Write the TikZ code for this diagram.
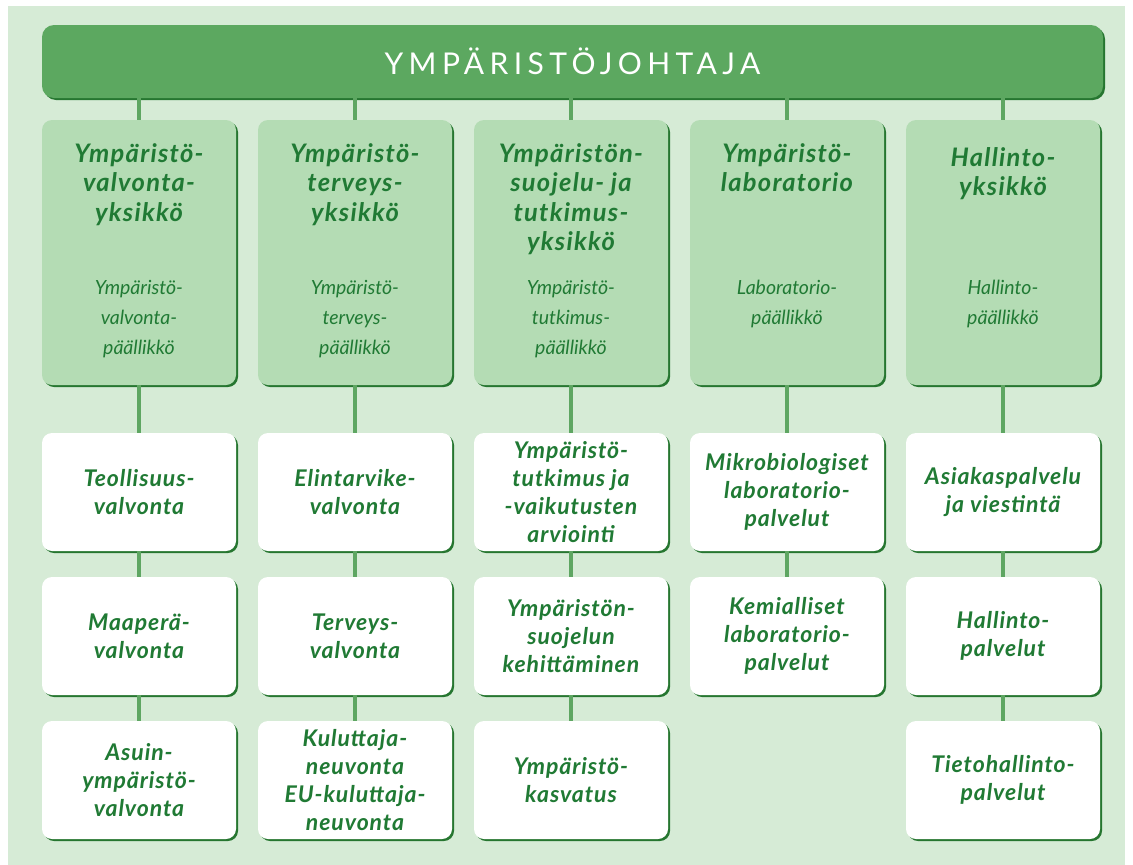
\documentclass[tikz,border=0pt]{standalone}
\usepackage{fontspec}
\setmainfont{Lato}
\usetikzlibrary{shadows}
\definecolor{bggreen}{RGB}{214,235,214}
\definecolor{bargreen}{RGB}{92,168,96}
\definecolor{headgreen}{RGB}{180,220,180}
\definecolor{textgreen}{RGB}{32,122,52}
\definecolor{linegreen}{RGB}{94,166,98}
\definecolor{shadegreen}{RGB}{38,118,48}

\tikzset{
  boxshadow/.style={drop shadow={shadow xshift=2pt,shadow yshift=-2pt,fill=shadegreen,opacity=1}},
  titlebar/.style={fill=bargreen,rounded corners=12pt,minimum width=1061pt,minimum height=73pt,
    boxshadow,text=white,font=\fontsize{30}{32}\selectfont\addfontfeatures{LetterSpace=18}},
  unitbox/.style={fill=headgreen,rounded corners=10pt,minimum width=194pt,minimum height=265pt,boxshadow},
  taskbox/.style={fill=white,rounded corners=10pt,minimum width=194pt,minimum height=118pt,boxshadow,
    align=center,text=textgreen,font=\fontsize{23}{28}\selectfont\bfseries\itshape\addfontfeatures{LetterSpace=4}},
  unitname/.style={anchor=north,inner sep=0pt,align=center,text=textgreen,
    font=\fontsize{25.5}{29.5}\selectfont\bfseries\itshape\addfontfeatures{LetterSpace=5}},
  chief/.style={anchor=north,inner sep=0pt,align=center,text=textgreen,
    font=\fontsize{19.5}{30}\selectfont\itshape},
  conn/.style={draw=linegreen,line width=4pt}
}

\begin{document}
\begin{tikzpicture}[x=1pt,y=-1pt]
  \useasboundingbox (0,0) rectangle (1133,865);
  \fill[bggreen] (8,6) rectangle (1125,865);

  % johtaja
  \node[titlebar] (top) at (572.5,61.5) {YMPÄRISTÖJOHTAJA};

  % yksiköt
  \node[unitbox] (u1) at (139,252.5) {};
  \node[unitbox] (u2) at (355,252.5) {};
  \node[unitbox] (u3) at (571,252.5) {};
  \node[unitbox] (u4) at (787,252.5) {};
  \node[unitbox] (u5) at (1003,252.5) {};

  \node[unitname] (n1) at (139,143) {Ympäristö-\\valvonta-\\yksikkö};
  \node[unitname] (n2) at (355,143) {Ympäristö-\\terveys-\\yksikkö};
  \node[unitname] (n3) at (571,143) {Ympäristön-\\suojelu- ja\\tutkimus-\\yksikkö};
  \node[unitname] (n4) at (787,143) {Ympäristö-\\laboratorio};
  \node[unitname] (n5) at (1003,147) {Hallinto-\\yksikkö};

  \node[chief] (c1) at (139,280) {Ympäristö-\\valvonta-\\päällikkö};
  \node[chief] (c2) at (355,280) {Ympäristö-\\terveys-\\päällikkö};
  \node[chief] (c3) at (571,280) {Ympäristö-\\tutkimus-\\päällikkö};
  \node[chief] (c4) at (787,280) {Laboratorio-\\päällikkö};
  \node[chief] (c5) at (1003,280) {Hallinto-\\päällikkö};

  % palvelut
  \node[taskbox] (a1) at (139,492) {Teollisuus-\\valvonta};
  \node[taskbox] (b1) at (139,636) {Maaperä-\\valvonta};
  \node[taskbox] (d1) at (139,780) {Asuin-\\ympäristö-\\valvonta};

  \node[taskbox] (a2) at (355,492) {Elintarvike-\\valvonta};
  \node[taskbox] (b2) at (355,636) {Terveys-\\valvonta};
  \node[taskbox] (d2) at (355,780) {Kuluttaja-\\neuvonta\\EU-kuluttaja-\\neuvonta};

  \node[taskbox] (a3) at (571,492) {Ympäristö-\\tutkimus ja\\-vaikutusten\\arviointi};
  \node[taskbox] (b3) at (571,636) {Ympäristön-\\suojelun\\kehittäminen};
  \node[taskbox] (d3) at (571,780) {Ympäristö-\\kasvatus};

  \node[taskbox] (a4) at (787,492) {Mikrobiologiset\\laboratorio-\\palvelut};
  \node[taskbox] (b4) at (787,636) {Kemialliset\\laboratorio-\\palvelut};

  \node[taskbox] (a5) at (1003,492) {Asiakaspalvelu\\ja viestintä};
  \node[taskbox] (b5) at (1003,636) {Hallinto-\\palvelut};
  \node[taskbox] (d5) at (1003,780) {Tietohallinto-\\palvelut};

  % viivat
  \draw[conn] (u1.north) -- (u1.north |- top.south);
  \draw[conn] (u2.north) -- (u2.north |- top.south);
  \draw[conn] (u3.north) -- (u3.north |- top.south);
  \draw[conn] (u4.north) -- (u4.north |- top.south);
  \draw[conn] (u5.north) -- (u5.north |- top.south);
  \draw[conn] (u1.south) -- (a1.north) (a1.south) -- (b1.north) (b1.south) -- (d1.north);
  \draw[conn] (u2.south) -- (a2.north) (a2.south) -- (b2.north) (b2.south) -- (d2.north);
  \draw[conn] (u3.south) -- (a3.north) (a3.south) -- (b3.north) (b3.south) -- (d3.north);
  \draw[conn] (u4.south) -- (a4.north) (a4.south) -- (b4.north);
  \draw[conn] (u5.south) -- (a5.north) (a5.south) -- (b5.north) (b5.south) -- (d5.north);
\end{tikzpicture}
\end{document}
